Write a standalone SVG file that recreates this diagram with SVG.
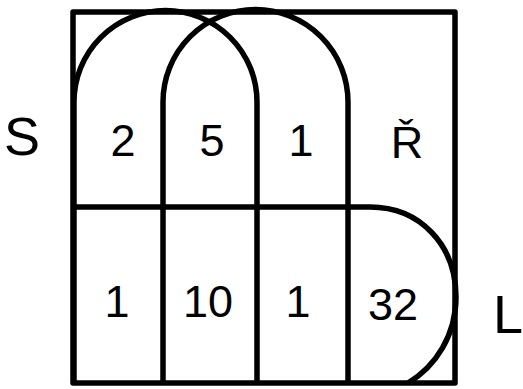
<svg xmlns="http://www.w3.org/2000/svg" width="523" height="389" viewBox="0 0 523 389">
<style>
.ln{fill:none;stroke:#000;stroke-width:5.5;stroke-linejoin:round;stroke-linecap:butt}
.t{font-family:"Liberation Sans",Arial,sans-serif;font-size:45px;fill:#000;text-anchor:middle}
</style>
<rect width="523" height="389" fill="#fff"/>
<g id="frame"><rect class="ln" x="73" y="12" width="382" height="371"/></g>
<g id="connectors">
<path id="setS" class="ln" d="M74 383 V102 A91.5 91.5 0 0 1 257 102 V383"/>
<path id="setR" class="ln" d="M163 383 V102 A92.5 92.5 0 0 1 348 102 V383"/>
<path id="setL" class="ln" d="M73 207 H370 C420 207 456 245 456 297 C456 335 436 366 408 383"/>
</g>
<g id="labels">
<text class="t" x="22" y="155" style="font-size:54px">S</text>
<text class="t" x="407" y="158">Ř</text>
<text class="t" x="493" y="333" style="font-size:54px;text-anchor:start">L</text>
</g>
<g id="counts">
<text class="t" x="123" y="156">2</text>
<text class="t" x="212" y="156">5</text>
<text class="t" x="301" y="156">1</text>
<text class="t" x="117" y="317">1</text>
<text class="t" x="208" y="317">10</text>
<text class="t" x="298" y="317">1</text>
<text class="t" x="393" y="320">32</text>
</g>
</svg>
